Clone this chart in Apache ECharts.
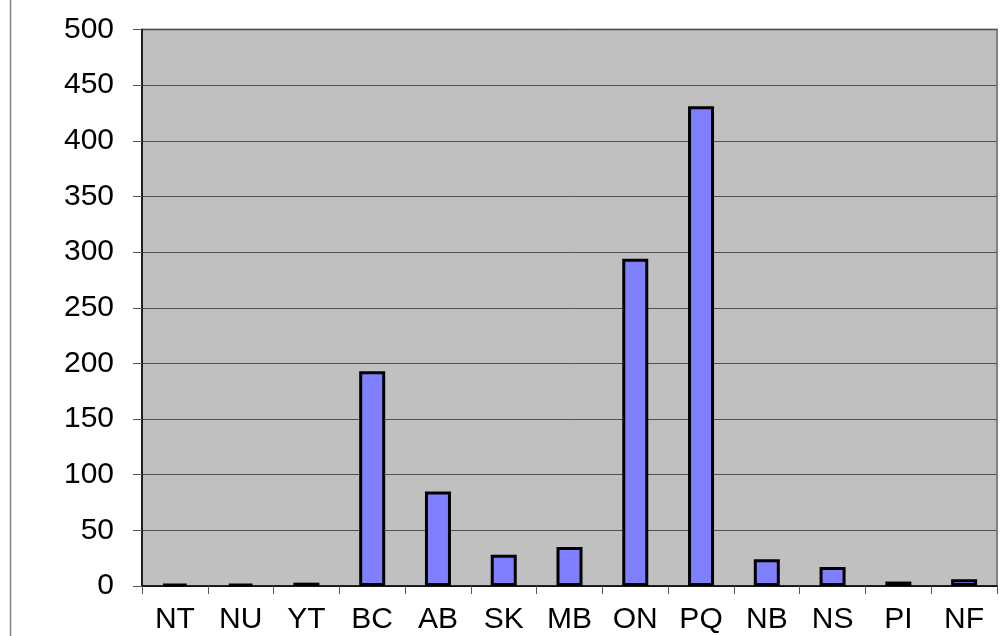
<!DOCTYPE html>
<html>
<head>
<meta charset="utf-8">
<script src="https://cdn.jsdelivr.net/npm/echarts@6/dist/echarts.min.js"></script>
<style>
html,body{margin:0;padding:0;background:#fff;}
#chart{width:1005px;height:636px;}
</style>
</head>
<body>
<div id="chart"></div>
<script>
var categories = ['NT','NU','YT','BC','AB','SK','MB','ON','PQ','NB','NS','PI','NF'];
var values = [2, 2, 3, 193, 85, 28, 35, 294, 431, 24, 17, 4, 6];
var yMin = 0, yMax = 500, yStep = 50;

var chart = echarts.init(document.getElementById('chart'));
chart.setOption({
  animation: false,
  backgroundColor: '#ffffff',
  textStyle: { fontFamily: 'Liberation Sans, Arial, sans-serif' },
  grid: {
    left: 142, right: 8, top: 29.5, bottom: 50,
    show: true, backgroundColor: '#C0C0C0', borderColor: '#808080', borderWidth: 2
  },
  graphic: [{
    type: 'line', shape: { x1: 10.5, y1: 0, x2: 10.5, y2: 636 },
    style: { stroke: '#808080', lineWidth: 1.5 }, silent: true
  }],
  xAxis: {
    type: 'category',
    data: categories,
    boundaryGap: true,
    axisLine: { show: true, lineStyle: { color: '#000', width: 1.5 } },
    axisTick: { show: true, length: 8, alignWithLabel: false, lineStyle: { color: '#555', width: 1 } },
    axisLabel: { color: '#000', fontSize: 30, margin: 19, fontFamily: 'Liberation Sans, Arial, sans-serif', interval: 0 },
    splitLine: { show: false }
  },
  yAxis: {
    type: 'value',
    min: yMin, max: yMax, interval: yStep,
    axisLine: { show: true, lineStyle: { color: '#000', width: 1.5 } },
    axisTick: { show: true, length: 9, lineStyle: { color: '#555', width: 1 } },
    axisLabel: { color: '#000', fontSize: 30, margin: 28, fontFamily: 'Liberation Sans, Arial, sans-serif' },
    splitLine: { show: true, lineStyle: { color: '#505050', width: 1 } }
  },
  series: [{
    type: 'bar',
    data: values,
    barWidth: 26,
    itemStyle: { color: '#8080FF', borderColor: '#000', borderWidth: 3 }
  }]
});
</script>
</body>
</html>
